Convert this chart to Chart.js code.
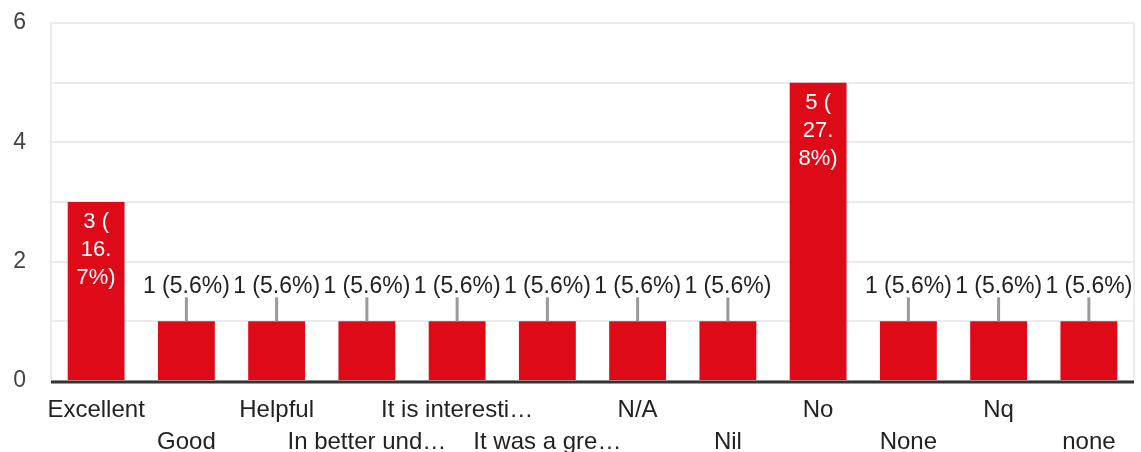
<!DOCTYPE html>
<html>
<head>
<meta charset="utf-8">
<script src="https://cdn.jsdelivr.net/npm/chart.js@4"></script>
<style>
  body { margin: 0; background: #fff; }
</style>
</head>
<body>
<canvas id="chart" width="1141" height="452"></canvas>
<script>
// answers and how many picked each one
const categories = ['Excellent', 'Good', 'Helpful', 'In better und…', 'It is interesti…', 'It was a gre…', 'N/A', 'Nil', 'No', 'None', 'Nq', 'none'];
const counts = [3, 1, 1, 1, 1, 1, 1, 1, 5, 1, 1, 1];
const yTickLabels = [0, 2, 4, 6];

const total = counts.reduce((a, b) => a + b, 0);
const FONT = '"Liberation Sans", Arial, sans-serif';

// wraps a string char by char to fit maxW
function charWrap(ctx, text, maxW) {
    let lines = [];
    let cur = '';
    for (const ch of text) {
        if (cur && ctx.measureText(cur + ch).width > maxW) {
            lines.push(cur);
            cur = ch;
        } else {
            cur += ch;
        }
    }
    if (cur) lines.push(cur);
    return lines;
}

const barLabels = {
    id: 'barLabels',
    afterDatasetsDraw(chart) {
        const ctx = chart.ctx;
        const area = chart.chartArea;
        const meta = chart.getDatasetMeta(0);
        ctx.save();

        // right edge of the plot
        ctx.strokeStyle = '#ebebeb';
        ctx.lineWidth = 2;
        ctx.beginPath();
        ctx.moveTo(area.right, area.top);
        ctx.lineTo(area.right, area.bottom);
        ctx.stroke();

        // dark base line
        const y0 = chart.scales.y.getPixelForValue(0);
        ctx.strokeStyle = '#333333';
        ctx.lineWidth = 3;
        ctx.beginPath();
        ctx.moveTo(area.left, y0 + 1);
        ctx.lineTo(area.right, y0 + 1);
        ctx.stroke();

        ctx.textAlign = 'center';
        ctx.textBaseline = 'middle';
        meta.data.forEach((bar, i) => {
            const v = counts[i];
            const pct = (v / total * 100).toFixed(1);
            if (bar.base - bar.y > 100) {
                ctx.font = '22px ' + FONT;
                ctx.fillStyle = '#ffffff';
                const lines = [v + ' ('].concat(charWrap(ctx, pct + '%)', 41));
                lines.forEach((ln, k) => {
                    ctx.fillText(ln, bar.x, bar.y + 20 + k * 28);
                });
            } else {
                ctx.strokeStyle = '#999999';
                ctx.lineWidth = 3;
                ctx.beginPath();
                ctx.moveTo(bar.x, bar.y);
                ctx.lineTo(bar.x, bar.y - 24);
                ctx.stroke();
                ctx.font = '23px ' + FONT;
                ctx.fillStyle = '#222222';
                ctx.fillText(v + ' (' + pct + '%)', bar.x, bar.y - 35);
            }
        });
        ctx.restore();
    }
};

new Chart(document.getElementById('chart'), {
    type: 'bar',
    data: {
        labels: categories,
        datasets: [{
            data: counts,
            backgroundColor: '#de0a17',
            borderWidth: 0,
            categoryPercentage: 1,
            barPercentage: 0.63
        }]
    },
    options: {
        responsive: false,
        animation: false,
        layout: { padding: { top: 23, right: 7, left: 0, bottom: 0 } },
        plugins: {
            legend: { display: false },
            tooltip: { enabled: false }
        },
        scales: {
            x: {
                afterFit(scale) {
                    scale.height = 71;
                    scale.paddingLeft = 0;
                    scale.paddingRight = 0;
                },
                grid: { display: false },
                border: { display: false },
                ticks: {
                    autoSkip: false,
                    maxRotation: 0,
                    minRotation: 0,
                    padding: 5,
                    color: '#222222',
                    font: { family: FONT, size: 24, lineHeight: 1.333 },
                    callback(value, index) {
                        const lab = categories[index];
                        return index % 2 === 0 ? [lab, ''] : ['', lab];
                    }
                }
            },
            y: {
                min: 0,
                max: 6,
                afterFit(scale) {
                    scale.width = 51;
                    scale.paddingTop = 0;
                    scale.paddingBottom = 0;
                },
                border: { display: true, color: '#ebebeb', width: 2 },
                grid: {
                    drawTicks: false,
                    color: '#ebebeb',
                    lineWidth: 2
                },
                ticks: {
                    stepSize: 1,
                    padding: 25,
                    color: '#444444',
                    font: { family: FONT, size: 23 },
                    callback(value) {
                        return yTickLabels.includes(value) ? String(value) : '';
                    }
                }
            }
        }
    },
    plugins: [barLabels]
});
</script>
</body>
</html>
